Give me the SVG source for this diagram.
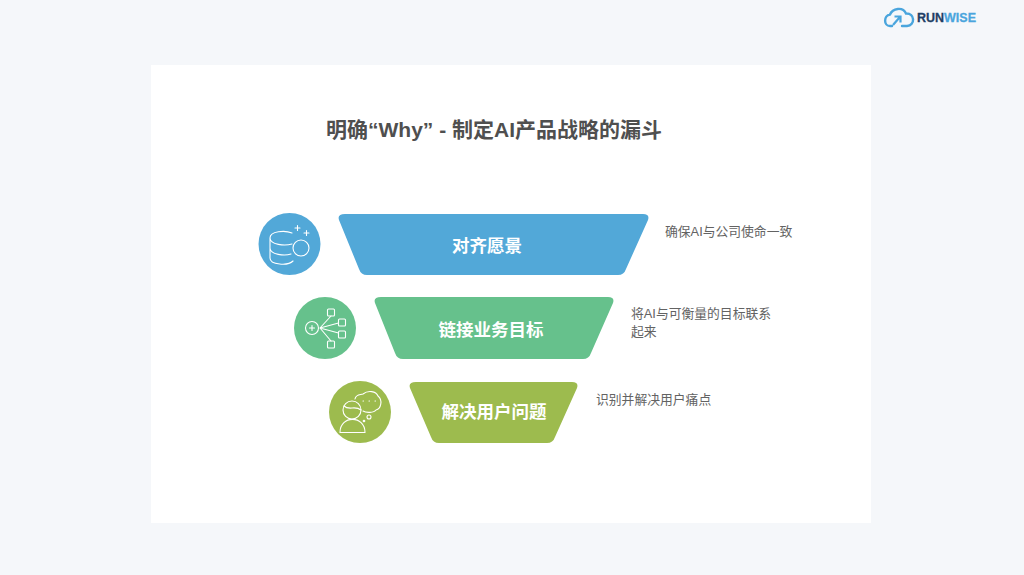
<svg xmlns="http://www.w3.org/2000/svg" width="1024" height="575" viewBox="0 0 1024 575">
<style>
text{font-family:"Liberation Sans","Noto Sans CJK SC",sans-serif}
.title{font-size:21px;font-weight:700;fill:#4f4f4f}
.lab{font-size:17.500px;font-weight:700;fill:#fff;text-anchor:middle}
.desc{font-size:12.800px;fill:#636363}
.ic{fill:none;stroke:#fff;stroke-width:1.100;stroke-linecap:round;stroke-linejoin:round}
</style>
<rect width="1024" height="575" fill="#f5f7fa"/>
<rect x="151" y="65" width="720" height="458" fill="#fff"/>
<g id="logo">
<path d="M892 26H890C883.500 26 883.500 15.500 890 14.500C892.500 8 903 6.500 906 13.500C915 13 915.500 25.500 907 26H902" fill="none" stroke="#4aa5dd" stroke-width="2.400" stroke-linecap="round"/>
<path d="M893 25L899.500 17.500M894.500 16.500L900.500 16.500L900.500 22.500" fill="none" stroke="#4aa5dd" stroke-width="2.200"/>
<text x="917" y="22" font-size="13.500" font-weight="700" textLength="59" lengthAdjust="spacingAndGlyphs" fill="#1f3f66" stroke="#1f3f66" stroke-width=".3">RUN<tspan fill="#4aa5dd" stroke="#4aa5dd">WISE</tspan></text>
</g>
<text class="title" x="326" y="137">明确“Why” - 制定AI产品战略的漏斗</text>
<g id="step1">
<circle cx="289.500" cy="244" r="31" fill="#52a8d8"/>
<g class="ic"><path d="M292 233C285 230 270 231 270 238V258C270 265 288 266 293 261M270 238C270 245 285 246 292 244M270 248C270 255 285 256 291 254"/><circle cx="301" cy="248" r="8"/><path d="M297.500 225.500v5M295 228h5M306.500 230.500v5M304 233h5"/></g>
<path id="funnel1" d="M345 214H643Q650 214 648 220L626 269Q624 275 618 275H367Q361 275 359 269L339 220Q337 214 345 214Z" fill="#52a8d8"/>
<text class="lab" x="487" y="252">对齐愿景</text>
<text class="desc" x="665" y="236">确保AI与公司使命一致</text>
</g>
<g id="step2">
<circle cx="325" cy="328" r="31" fill="#66c18c"/>
<g class="ic"><circle cx="312" cy="328" r="6.500"/><path d="M309.500 328h5M312 325.500v5M320 328L331 316M320 328L338.500 323M320 328L338.500 333M320 328L331 341"/><rect x="327.500" y="309" width="7" height="7" rx="1"/><rect x="338.500" y="319" width="7" height="7" rx="1"/><rect x="338.500" y="331" width="7" height="7" rx="1"/><rect x="327.500" y="341" width="7" height="7" rx="1"/></g>
<path id="funnel2" d="M381 297H608Q615 297 613 303L591 353Q589 359 583 359H403Q397 359 395 353L375 303Q373 297 381 297Z" fill="#66c18c"/>
<text class="lab" x="491" y="336">链接业务目标</text>
<text class="desc" x="631" y="318">将AI与可衡量的目标联系</text>
<text class="desc" x="631" y="336">起来</text>
</g>
<g id="step3">
<circle cx="360" cy="412" r="31" fill="#9dbb4e"/>
<g class="ic"><circle cx="352" cy="410" r="9"/><path d="M344 406C349 411 355 405 361 410M340 432.500C340 415 365 415 365 432.500Z"/><path d="M355 399C356 394 360 395 363 394C368 390 376 391 378 396C383 400 381 409 376 410C374 413 366 413 363 411"/><circle cx="369" cy="417" r="2"/><circle cx="364" cy="421" r="0.800"/><path d="M363 401h.5M369 401h.5M375 401h.5"/></g>
<path id="funnel3" d="M416 382H572Q579 382 577 388L555 437Q553 443 547 443H439Q433 443 431 437L410 388Q408 382 416 382Z" fill="#9dbb4e"/>
<text class="lab" x="494" y="418">解决用户问题</text>
<text class="desc" x="596" y="404">识别并解决用户痛点</text>
</g>
</svg>
